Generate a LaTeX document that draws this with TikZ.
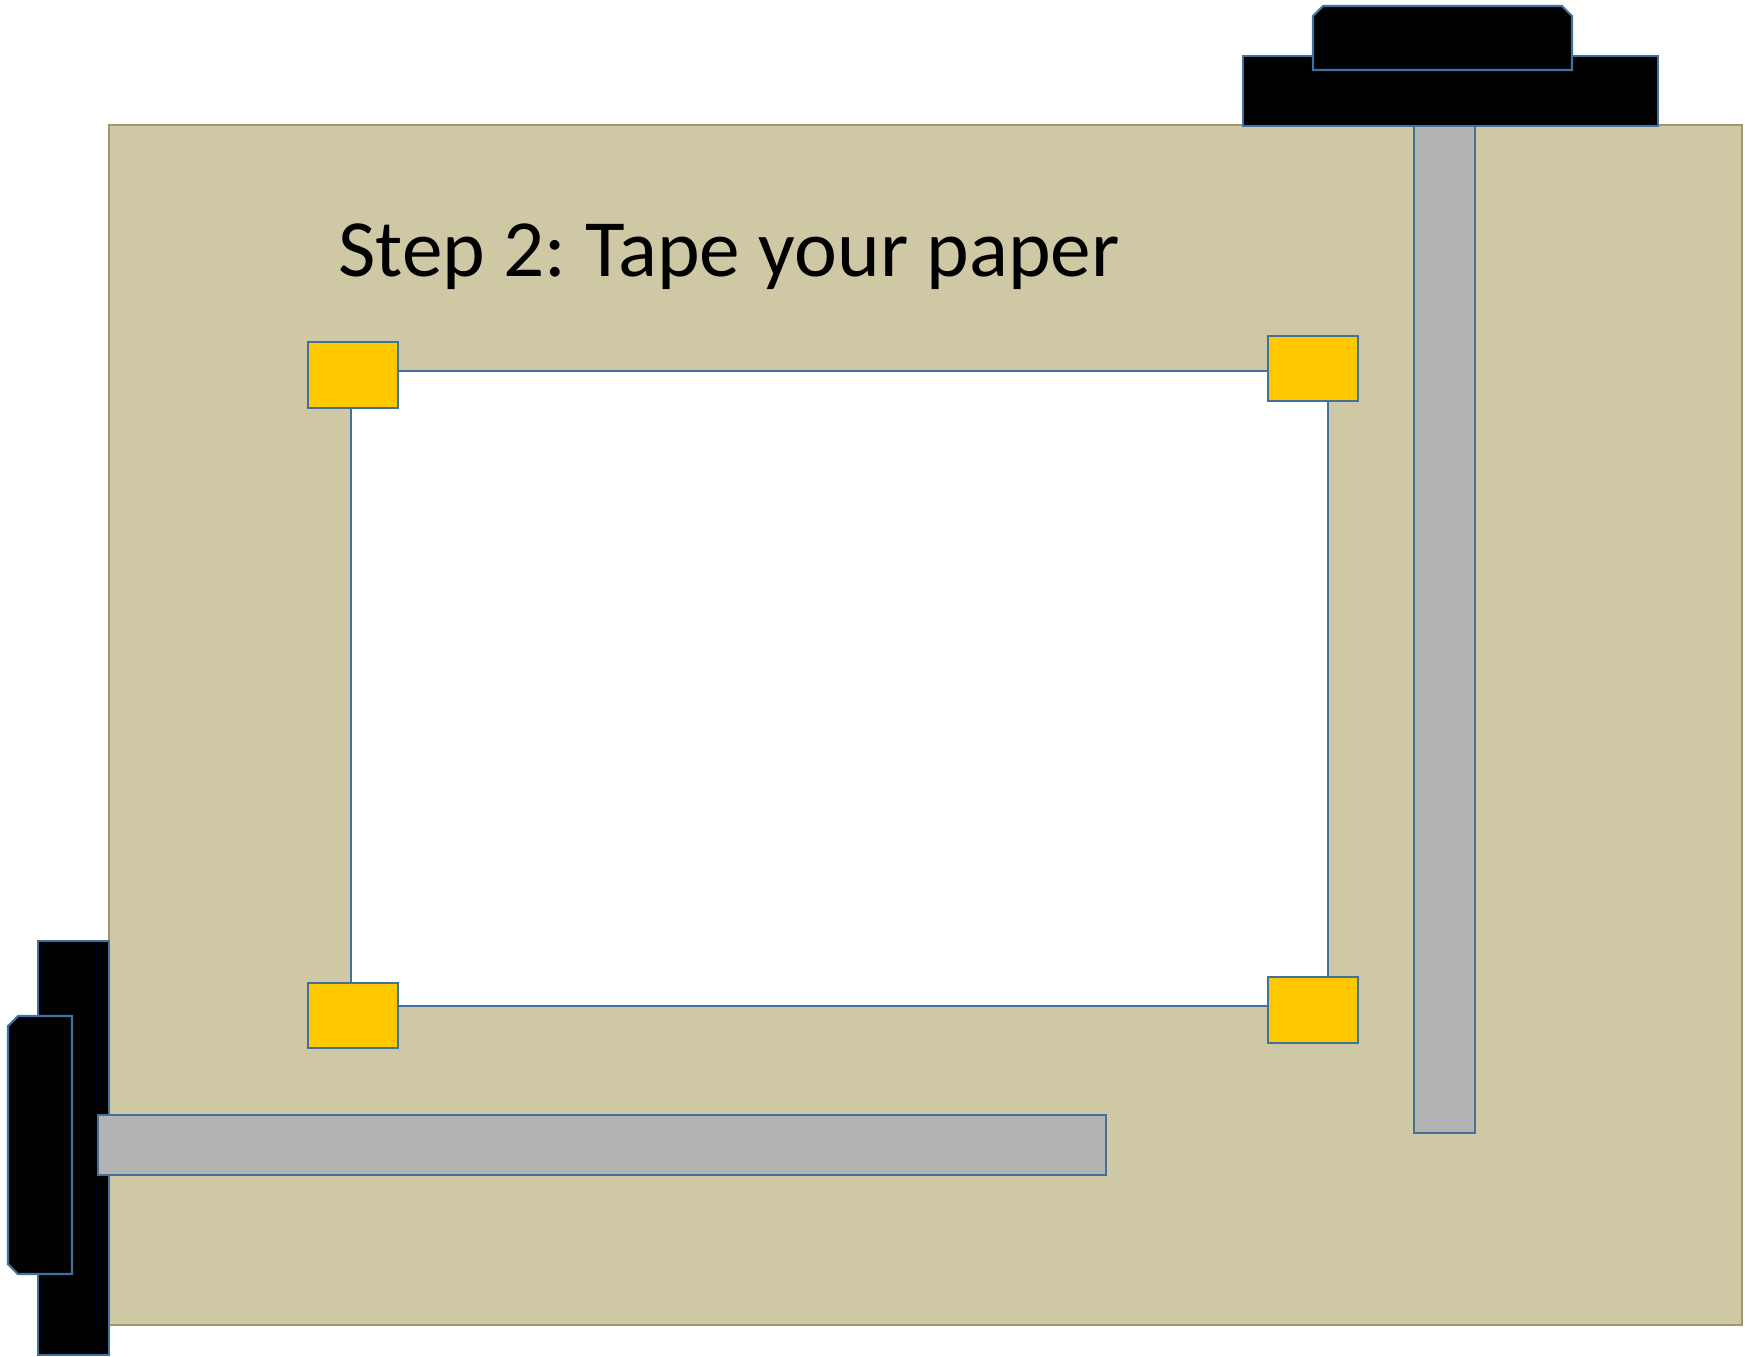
\documentclass[tikz,border=0pt]{standalone}
\usepackage{fontspec}
\setmainfont{Carlito}
\usepackage{xcolor}
\definecolor{boardtan}{RGB}{206, 200, 165}
\definecolor{boardedge}{RGB}{160, 152, 104}
\definecolor{outlineblue}{RGB}{65, 113, 156}
\definecolor{tapeyellow}{RGB}{255, 200, 0}
\definecolor{rulergray}{RGB}{179, 179, 179}
\tikzset{
  part/.style={draw=outlineblue, line width=0.6pt},
  tape/.style={part, fill=tapeyellow},
  ruler/.style={part, fill=rulergray},
  clamp/.style={part, fill=black}
}
\frenchspacing

\begin{document}
\begin{tikzpicture}[x=0.01cm, y=-0.01cm]
  % fixed frame, pixel units, y downwards
  \useasboundingbox (0,0) rectangle (1745,1356);

  % drawing board
  \fill[boardtan, draw=boardedge, line width=0.7pt] (109,125) rectangle (1742,1325);

  % top clamp
  \draw[clamp] (1243,56) rectangle (1658,126);
  \draw[clamp] (1313,70) -- (1313,16) -- (1323,6) -- (1562,6) -- (1572,16) -- (1572,70) -- cycle;

  % vertical ruler
  \draw[ruler] (1414,126) rectangle (1475,1133);

  % left clamp
  \draw[clamp] (38,941) rectangle (109,1355);
  \draw[clamp] (72,1016) -- (18,1016) -- (8,1026) -- (8,1264) -- (18,1274) -- (72,1274) -- cycle;

  % horizontal ruler
  \draw[ruler] (98,1115) rectangle (1106,1175);

  % title
  \node[anchor=base west, inner sep=0pt, font=\fontsize{23.1}{28}\selectfont] (title) at (338,276) {Step 2: Tape your paper};

  % paper sheet
  \draw[part, fill=white] (351,371) rectangle (1328,1006);

  % tape pieces on the corners
  \draw[tape] (308,342) rectangle (398,408);
  \draw[tape] (1268,336) rectangle (1358,401);
  \draw[tape] (308,983) rectangle (398,1048);
  \draw[tape] (1268,977) rectangle (1358,1043);

\end{tikzpicture}
\end{document}
